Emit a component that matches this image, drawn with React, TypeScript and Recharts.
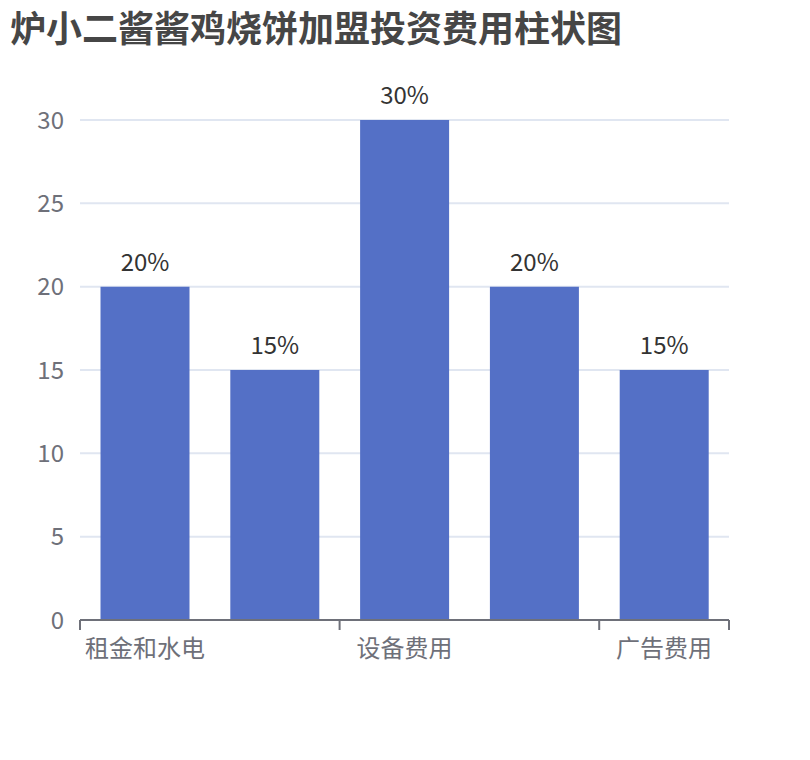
import { Bar, BarChart, CartesianGrid, LabelList, XAxis, YAxis } from "recharts";

// 五个费用类别，横轴每隔一个显示标签（与原图一致）
const categories = ["租金和水电", "装修费用", "设备费用", "原材料费用", "广告费用"];
const costShare = [20, 15, 30, 20, 15];
const yTicks = [0, 5, 10, 15, 20, 25, 30];

const CHART_WIDTH = 810;
const CHART_HEIGHT = 760;
const MARGIN = { top: 120, right: 81, bottom: 110, left: 0 };
const Y_AXIS_WIDTH = 80;
const PLOT_WIDTH = CHART_WIDTH - MARGIN.left - MARGIN.right - Y_AXIS_WIDTH;
const BAND = PLOT_WIDTH / categories.length;

const FONT = '"Noto Sans CJK SC", "Noto Sans", sans-serif';
const AXIS_COLOR = "#6E7079";

const data = categories.map((name, i) => ({ name, value: costShare[i] }));

// 刻度线画在类目边界上（ECharts 风格），标签居中
function CategoryTick(props: any) {
  const { x, y, payload } = props;
  const index = categories.indexOf(payload.value);
  const left = x - BAND / 2;
  const isLast = index === categories.length - 1;
  return (
    <g>
      <line x1={left} x2={left} y1={y} y2={y + 10} stroke={AXIS_COLOR} strokeWidth={2} />
      {isLast ? (
        <line
          x1={x + BAND / 2}
          x2={x + BAND / 2}
          y1={y}
          y2={y + 10}
          stroke={AXIS_COLOR}
          strokeWidth={2}
        />
      ) : null}
      <text
        x={x}
        y={y + 26}
        textAnchor="middle"
        dominantBaseline="central"
        fill={AXIS_COLOR}
        fontSize={24}
        fontFamily={FONT}
      >
        {payload.value}
      </text>
    </g>
  );
}

export default function App() {
  return (
    <div
      style={{
        position: "absolute",
        left: 0,
        top: 0,
        width: CHART_WIDTH,
        height: CHART_HEIGHT,
        background: "#fff",
        fontFamily: FONT,
      }}
    >
      <div
        style={{
          position: "absolute",
          left: 10,
          top: 8,
          fontSize: 36,
          lineHeight: "36px",
          fontWeight: 700,
          color: "#464646",
          whiteSpace: "nowrap",
        }}
      >
        炉小二酱酱鸡烧饼加盟投资费用柱状图
      </div>
      <BarChart
        width={CHART_WIDTH}
        height={CHART_HEIGHT}
        data={data}
        margin={MARGIN}
        barCategoryGap="15.8%"
      >
        <CartesianGrid vertical={false} stroke="#E0E6F1" strokeWidth={2} />
        <XAxis
          dataKey="name"
          interval={1}
          axisLine={{ stroke: AXIS_COLOR, strokeWidth: 2 }}
          tickLine={false}
          tickSize={0}
          tickMargin={0}
          tick={<CategoryTick />}
        />
        <YAxis
          width={Y_AXIS_WIDTH}
          domain={[0, 30]}
          ticks={yTicks}
          axisLine={false}
          tickLine={false}
          tickMargin={10}
          tick={{ fill: AXIS_COLOR, fontSize: 24, fontFamily: FONT }}
        />
        <Bar dataKey="value" fill="#5470C6" isAnimationActive={false}>
          <LabelList
            dataKey="value"
            position="top"
            offset={16}
            formatter={(v: any) => `${v}%`}
            fill="#333"
            fontSize={24}
            fontFamily={FONT}
          />
        </Bar>
      </BarChart>
    </div>
  );
}
